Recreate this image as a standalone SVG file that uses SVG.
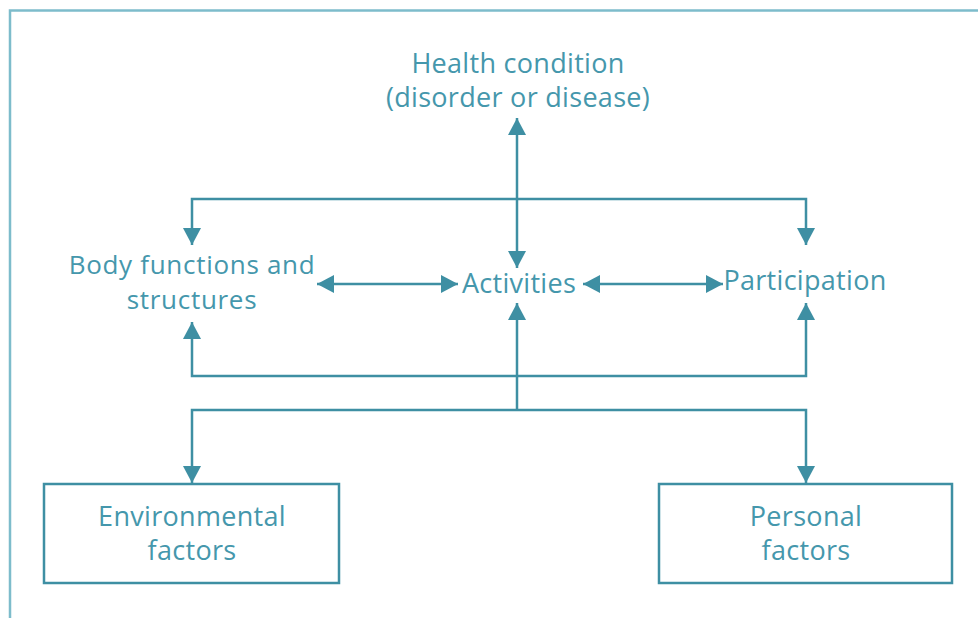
<svg xmlns="http://www.w3.org/2000/svg" width="978" height="618" viewBox="0 0 978 618">
  <style>
    .label { font-family: "Open Sans", "Noto Sans", sans-serif; font-size: 27px; letter-spacing: 0.3px; fill: #4597ac; text-anchor: middle; }
    .tight { font-size: 26px; letter-spacing: 0.7px; }
    .box { fill: #ffffff; stroke: #3e8fa3; stroke-width: 2.5; }
    .link { fill: none; stroke: #3e8fa3; stroke-width: 2.5; }
    .frame { fill: none; stroke: #7dbccb; stroke-width: 2.5; }
  </style>
  <defs>
    <marker id="arrow" viewBox="0 0 17 18" refX="17" refY="9" markerWidth="17" markerHeight="18" markerUnits="userSpaceOnUse" orient="auto-start-reverse">
      <path d="M0,0 L17,9 L0,18 z" fill="#3e8fa3"/>
    </marker>
  </defs>

  <rect width="978" height="618" fill="#ffffff"/>

  <!-- outer frame: top and left edges only -->
  <path class="frame" d="M10,618 V10.5 H978"/>

  <!-- connectors -->
  <g id="connectors">
    <path class="link" d="M517,118 V268" marker-start="url(#arrow)" marker-end="url(#arrow)"/>
    <path class="link" d="M192,245 V199 H806 V245" marker-start="url(#arrow)" marker-end="url(#arrow)"/>
    <path class="link" d="M317,284 H458" marker-start="url(#arrow)" marker-end="url(#arrow)"/>
    <path class="link" d="M583,284 H723" marker-start="url(#arrow)" marker-end="url(#arrow)"/>
    <path class="link" d="M517,303 V410" marker-start="url(#arrow)"/>
    <path class="link" d="M192,322 V376 H806 V303" marker-start="url(#arrow)" marker-end="url(#arrow)"/>
    <path class="link" d="M192,483 V410 H806 V483" marker-start="url(#arrow)" marker-end="url(#arrow)"/>
  </g>

  <g id="health-condition">
    <text class="label" x="518" y="73">Health condition</text>
    <text class="label" x="518" y="107">(disorder or disease)</text>
  </g>

  <g id="body-functions">
    <text class="label tight" x="192" y="274">Body functions and</text>
    <text class="label tight" x="192" y="309">structures</text>
  </g>

  <g id="activities">
    <text class="label" x="519" y="293">Activities</text>
  </g>

  <g id="participation">
    <text class="label" x="805" y="290">Participation</text>
  </g>

  <g id="environmental-factors">
    <rect class="box" x="44" y="484" width="295" height="99"/>
    <text class="label" x="192" y="526">Environmental</text>
    <text class="label" x="192" y="560">factors</text>
  </g>

  <g id="personal-factors">
    <rect class="box" x="659" y="484" width="293" height="99"/>
    <text class="label" x="806" y="526">Personal</text>
    <text class="label" x="806" y="560">factors</text>
  </g>
</svg>
